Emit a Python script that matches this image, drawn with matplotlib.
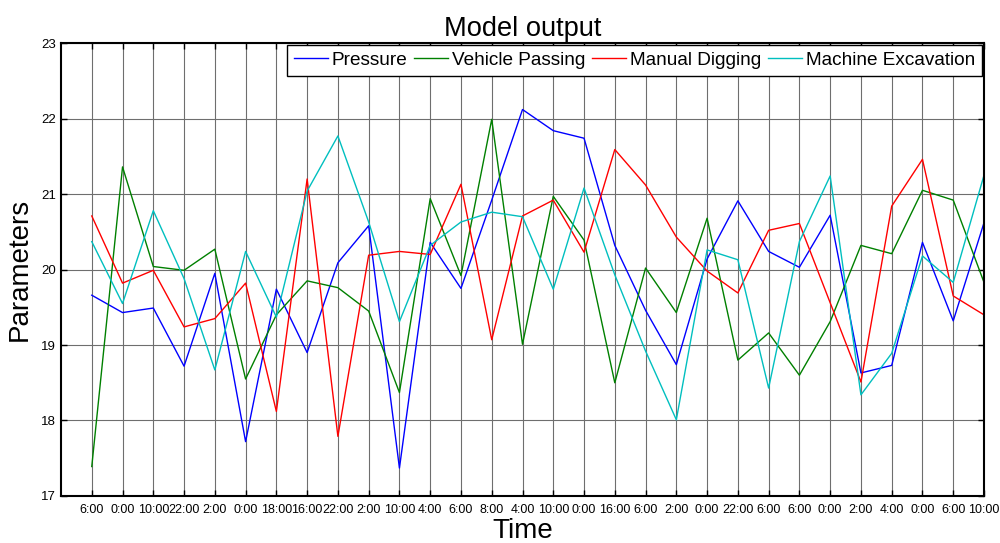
import matplotlib
matplotlib.use('Agg')
import matplotlib.pyplot as plt
import numpy as np

plt.rcParams['font.family'] = ['Liberation Sans', 'DejaVu Sans']

# x tick labels (time of each sample)
time_labels = ['6:00', '0:00', '10:00', '22:00', '2:00', '0:00', '18:00', '16:00',
               '22:00', '2:00', '10:00', '4:00', '6:00', '8:00', '4:00', '10:00',
               '0:00', '16:00', '6:00', '2:00', '0:00', '22:00', '6:00', '6:00',
               '0:00', '2:00', '4:00', '0:00', '6:00', '10:00']

pressure = [19.66, 19.43, 19.49, 18.72, 19.95, 17.72, 19.74, 18.90, 20.09, 20.58,
            17.37, 20.36, 19.75, 20.92, 22.12, 21.84, 21.74, 20.32, 19.46, 18.74,
            20.14, 20.91, 20.24, 20.03, 20.72, 18.63, 18.73, 20.36, 19.32, 20.62]

vehicle_passing = [17.39, 21.36, 20.04, 19.99, 20.27, 18.55, 19.40, 19.85, 19.76, 19.45,
                   18.37, 20.94, 19.92, 21.99, 19.01, 20.97, 20.39, 18.50, 20.02, 19.43,
                   20.68, 18.80, 19.16, 18.60, 19.31, 20.32, 20.21, 21.05, 20.92, 19.83]

manual_digging = [20.71, 19.82, 19.99, 19.24, 19.35, 19.82, 18.12, 21.20, 17.79, 20.19,
                  20.24, 20.20, 21.13, 19.07, 20.71, 20.92, 20.23, 21.59, 21.12, 20.43,
                  19.98, 19.69, 20.52, 20.61, 19.56, 18.51, 20.84, 21.46, 19.65, 19.40]

machine_excavation = [20.37, 19.55, 20.78, 19.88, 18.67, 20.24, 19.37, 21.04, 21.77, 20.63,
                      19.31, 20.32, 20.63, 20.76, 20.70, 19.74, 21.08, 19.93, 18.92, 18.01,
                      20.26, 20.13, 18.43, 20.37, 21.24, 18.34, 18.89, 20.18, 19.83, 21.25]

series = [('Pressure', pressure, '#0000ff'),
          ('Vehicle Passing', vehicle_passing, '#008000'),
          ('Manual Digging', manual_digging, '#ff0000'),
          ('Machine Excavation', machine_excavation, '#00bfbf')]

fig = plt.figure(figsize=(10, 5.43), dpi=100)
ax = fig.add_axes([0.061, 0.0866, 0.923, 0.834])

x = np.arange(1, len(time_labels) + 1)
for name, vals, color in series:
    ax.plot(x, vals, color=color, linewidth=1.0, label=name)

ax.set_xlim(0, len(time_labels))
ax.set_ylim(17, 23)
ax.set_xticks(x)
ax.set_xticklabels(time_labels, fontsize=9)
ax.set_yticks(np.arange(17, 24, 1))
ax.tick_params(axis='y', labelsize=9.5)
ax.tick_params(direction='in', top=True, right=True, length=4, width=1.0)
ax.tick_params(axis='x', pad=6)

ax.grid(True, color='#6e6e6e', linewidth=0.8)
ax.set_axisbelow(True)
for sp in ax.spines.values():
    sp.set_linewidth(1.5)

ax.set_title('Model output', fontsize=19.6, pad=5)
ax.set_xlabel('Time', fontsize=20, labelpad=1)
ax.set_ylabel('Parameters', fontsize=20, labelpad=6)

leg = ax.legend(loc='upper right', ncol=4, fontsize=13.7, fancybox=False,
                framealpha=1, edgecolor='black', borderaxespad=0.1,
                handlelength=1.8, handletextpad=0.2, columnspacing=0.35,
                borderpad=0.35)
leg.get_frame().set_linewidth(1.0)

fig.savefig('out.png', dpi=100)
plt.close(fig)
